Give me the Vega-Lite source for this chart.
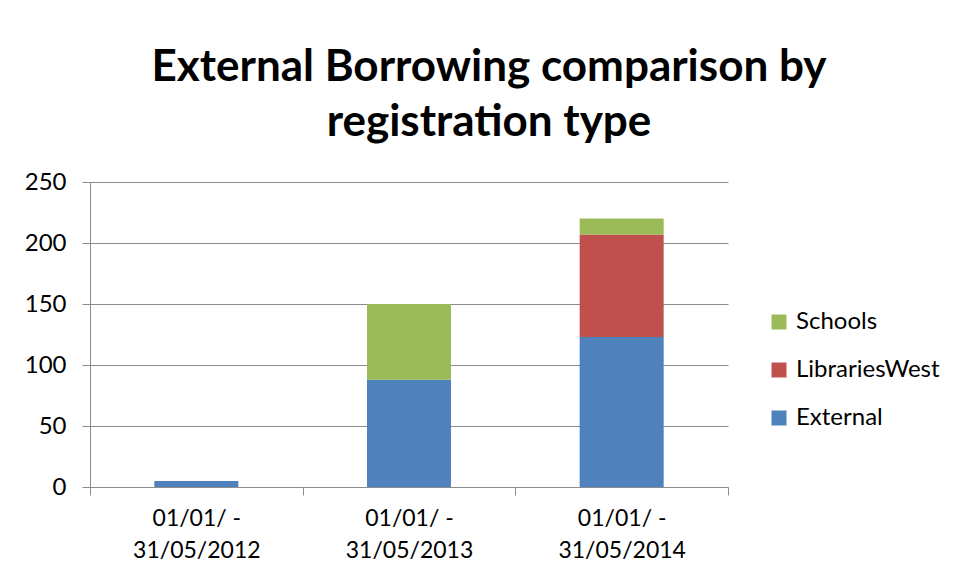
{
  "$schema": "https://vega.github.io/schema/vega-lite/v6.json",
  "width": 638,
  "height": 305,
  "autosize": {"type": "none"},
  "padding": {"left": 90, "top": 182, "right": 228, "bottom": 92},
  "background": "white",
  "config": {"view": {"stroke": null}},
  "title": {
    "text": ["External Borrowing comparison by", "registration type"],
    "font": "Lato",
    "fontSize": 44,
    "fontWeight": "bold",
    "color": "black",
    "anchor": "middle",
    "frame": "group",
    "dx": 80,
    "offset": 25,
    "lineHeight": 55
  },
  "data": {
    "values": [
      {"period": "01/01/ - 31/05/2012", "type": "External", "count": 5, "rank": 1},
      {"period": "01/01/ - 31/05/2013", "type": "External", "count": 88, "rank": 1},
      {"period": "01/01/ - 31/05/2013", "type": "Schools", "count": 62, "rank": 3},
      {"period": "01/01/ - 31/05/2014", "type": "External", "count": 123, "rank": 1},
      {"period": "01/01/ - 31/05/2014", "type": "LibrariesWest", "count": 84, "rank": 2},
      {"period": "01/01/ - 31/05/2014", "type": "Schools", "count": 13, "rank": 3}
    ]
  },
  "mark": {"type": "bar", "width": {"band": 0.395}},
  "encoding": {
    "x": {
      "field": "period",
      "type": "nominal",
      "scale": {"paddingInner": 0, "paddingOuter": 0},
      "axis": {
        "title": null,
        "labelAngle": 0,
        "labelExpr": "[slice(datum.label,0,8), slice(datum.label,9)]",
        "tickBand": "extent",
        "ticks": true,
        "tickSize": 8,
        "tickColor": "#8c8c8c",
        "domainColor": "#8c8c8c",
        "labelFont": "Lato",
        "labelFontSize": 23,
        "labelColor": "black",
        "labelLineHeight": 32,
        "labelPadding": 12,
        "grid": false
      }
    },
    "y": {
      "field": "count",
      "type": "quantitative",
      "stack": "zero",
      "scale": {"domain": [0, 250]},
      "axis": {
        "title": null,
        "values": [0, 50, 100, 150, 200, 250],
        "tickSize": 8,
        "labelPadding": 16,
        "labelFont": "Lato",
        "labelFontSize": 24,
        "labelColor": "black",
        "gridColor": "#8c8c8c",
        "domainColor": "#8c8c8c",
        "tickColor": "#8c8c8c"
      }
    },
    "color": {
      "field": "type",
      "type": "nominal",
      "scale": {
        "domain": ["Schools", "LibrariesWest", "External"],
        "range": ["#9BBB59", "#C0504D", "#4F81BD"]
      },
      "legend": {
        "title": null,
        "orient": "none",
        "legendX": 677,
        "legendY": 128,
        "symbolType": "square",
        "symbolSize": 225,
        "symbolStrokeWidth": 0,
        "labelFont": "Lato",
        "labelFontSize": 24,
        "labelColor": "black",
        "labelOffset": 5,
        "rowPadding": 24,
        "padding": 0
      }
    },
    "order": {"field": "rank", "type": "quantitative"}
  }
}
